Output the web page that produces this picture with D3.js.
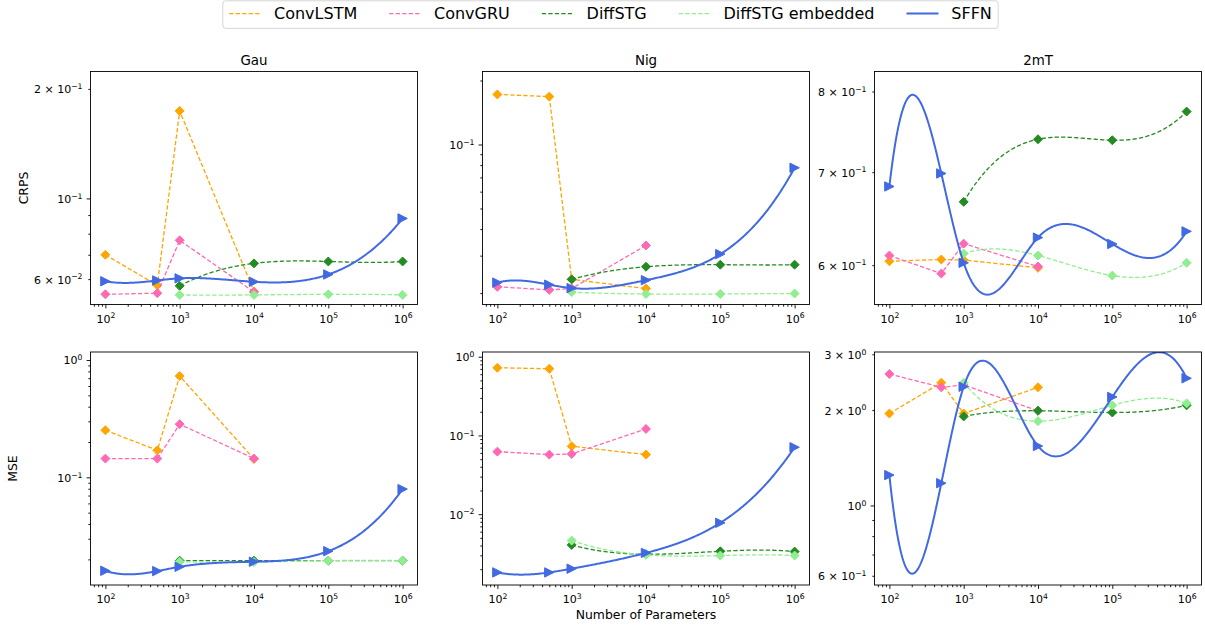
<!DOCTYPE html>
<html>
<head>
<meta charset="utf-8">
<script src="https://cdn.jsdelivr.net/npm/d3@7"></script>
<style>
  body { margin: 0; background: #fff; }
  svg text { font-family: "DejaVu Sans", sans-serif; fill: #000; }
</style>
</head>
<body>
<svg id="chart" width="1205" height="628"></svg>
<script>
const models = ["ConvLSTM", "ConvGRU", "DiffSTG", "DiffSTG embedded", "SFFN"];
const params = [1e2, 5e2, 1e3, 1e4, 1e5, 1e6];
const datasets = ["Gau", "Nig", "2mT"];
const metrics = ["CRPS", "MSE"];

// one row per panel: Gau CRPS, Nig CRPS, 2mT CRPS, Gau MSE, Nig MSE, 2mT MSE
const convLSTM = [
  [0.0700, 0.0577, 0.174, 0.0555, null, null],
  [0.172, 0.168, 0.0232, 0.0210, null, null],
  [0.604, 0.6057, 0.6052, 0.5974, null, null],
  [0.252, 0.170, 0.730, 0.1435, null, null],
  [0.724, 0.703, 0.0728, 0.0571, null, null],
  [1.95, 2.44, 1.95, 2.36, null, null]
];
const convGRU = [
  [0.0545, 0.0549, 0.0767, 0.0553, null, null],
  [0.0214, 0.0207, 0.0210, 0.0335, null, null],
  [0.6097, 0.5918, 0.6218, 0.5987, null, null],
  [0.1445, 0.1445, 0.284, 0.1445, null, null],
  [0.0623, 0.0571, 0.0582, 0.121, null, null],
  [2.60, 2.36, 2.40, 1.99, null, null]
];
const diffSTG = [
  [null, null, 0.0575, 0.0663, 0.0671, 0.0671],
  [null, null, 0.0232, 0.0266, 0.0272, 0.0272],
  [null, null, 0.6664, 0.7392, 0.7380, 0.7739],
  [null, null, 0.0195, 0.0195, 0.0195, 0.0195],
  [null, null, 0.00407, 0.0031, 0.00338, 0.00335],
  [null, null, 1.91, 1.99, 1.965, 2.07]
];
const diffSTGEmb = [
  [null, null, 0.0543, 0.0543, 0.0545, 0.0543],
  [null, null, 0.0202, 0.0198, 0.0198, 0.0199],
  [null, null, 0.6117, 0.6097, 0.5898, 0.6024],
  [null, null, 0.0191, 0.0190, 0.0195, 0.0195],
  [null, null, 0.00462, 0.00304, 0.00298, 0.00298],
  [null, null, 2.44, 1.845, 2.07, 2.10]
];
const sffn = [
  [0.0592, 0.0595, 0.0603, 0.0590, 0.0618, 0.0881],
  [0.0224, 0.0219, 0.0211, 0.0230, 0.0305, 0.0777],
  [0.6836, 0.6985, 0.6024, 0.6281, 0.6215, 0.6346],
  [0.0160, 0.0159, 0.0173, 0.0191, 0.0235, 0.0794],
  [0.00182, 0.00182, 0.00203, 0.00322, 0.00776, 0.0708],
  [1.247, 1.176, 2.37, 1.54, 2.20, 2.52]
];
// y range of each panel, same order
const yLimits = [
  [0.0511, 0.2233], [0.01767, 0.2205], [0.5622, 0.827],
  [0.0121, 1.17], [0.00126, 1.148], [0.561, 3.05]
];
const xLimits = [10 ** 1.8, 10 ** 6.2];

const seriesValues = [convLSTM, convGRU, diffSTG, diffSTGEmb, sffn];

// marker shapes like matplotlib "D" and ">"
const diamond = {
  draw(ctx, size) {
    const r = Math.sqrt(size / 2);
    ctx.moveTo(0, -r); ctx.lineTo(r, 0); ctx.lineTo(0, r); ctx.lineTo(-r, 0); ctx.closePath();
  }
};
const triangleRight = {
  draw(ctx, size) {
    const r = Math.sqrt(size / 2);
    ctx.moveTo(r, 0); ctx.lineTo(-r, -r); ctx.lineTo(-r, r); ctx.closePath();
  }
};

const styles = [
  { color: "orange", dash: "4.3,2.2", width: 1.3, smooth: false, symbol: diamond, size: 40 },
  { color: "hotpink", dash: "4.3,2.2", width: 1.3, smooth: false, symbol: diamond, size: 40 },
  { color: "forestgreen", dash: "4.3,2.2", width: 1.3, smooth: true, symbol: diamond, size: 40 },
  { color: "lightgreen", dash: "4.3,2.2", width: 1.3, smooth: true, symbol: diamond, size: 40 },
  { color: "royalblue", dash: null, width: 2, smooth: true, symbol: triangleRight, size: 44 }
];

// cubic spline with not-a-knot ends (like scipy make_interp_spline)
function solve(A, b) {
  const n = b.length;
  for (let i = 0; i < n; i++) {
    let p = i;
    for (let k = i + 1; k < n; k++) if (Math.abs(A[k][i]) > Math.abs(A[p][i])) p = k;
    [A[i], A[p]] = [A[p], A[i]];
    [b[i], b[p]] = [b[p], b[i]];
    for (let k = i + 1; k < n; k++) {
      const f = A[k][i] / A[i][i];
      for (let j = i; j < n; j++) A[k][j] -= f * A[i][j];
      b[k] -= f * b[i];
    }
  }
  const m = new Array(n).fill(0);
  for (let i = n - 1; i >= 0; i--) {
    let s = b[i];
    for (let j = i + 1; j < n; j++) s -= A[i][j] * m[j];
    m[i] = s / A[i][i];
  }
  return m;
}

function splineThrough(xs, ys) {
  const n = xs.length;
  const h = d3.range(n - 1).map(i => xs[i + 1] - xs[i]);
  const A = d3.range(n).map(() => new Array(n).fill(0));
  const b = new Array(n).fill(0);
  A[0][0] = h[1]; A[0][1] = -(h[0] + h[1]); A[0][2] = h[0];
  for (let i = 1; i < n - 1; i++) {
    A[i][i - 1] = h[i - 1];
    A[i][i] = 2 * (h[i - 1] + h[i]);
    A[i][i + 1] = h[i];
    b[i] = 6 * ((ys[i + 1] - ys[i]) / h[i] - (ys[i] - ys[i - 1]) / h[i - 1]);
  }
  A[n - 1][n - 3] = h[n - 2]; A[n - 1][n - 2] = -(h[n - 3] + h[n - 2]); A[n - 1][n - 1] = h[n - 3];
  const M = solve(A, b);
  return x => {
    const i = Math.max(0, Math.min(n - 2, d3.bisectRight(xs, x) - 1));
    const hi = h[i], a = xs[i + 1] - x, c = x - xs[i];
    return M[i] * a * a * a / (6 * hi) + M[i + 1] * c * c * c / (6 * hi)
      + (ys[i] / hi - M[i] * hi / 6) * a + (ys[i + 1] / hi - M[i + 1] * hi / 6) * c;
  };
}

function SplineCurve(context) { this._context = context; }
SplineCurve.prototype = {
  areaStart() {}, areaEnd() {},
  lineStart() { this._x = []; this._y = []; },
  point(x, y) { this._x.push(+x); this._y.push(+y); },
  lineEnd() {
    const xs = this._x, ys = this._y, n = xs.length, ctx = this._context;
    if (!n) return;
    if (n < 4) {
      xs.forEach((x, i) => i ? ctx.lineTo(x, ys[i]) : ctx.moveTo(x, ys[i]));
      return;
    }
    const f = splineThrough(xs, ys);
    const steps = 300;
    for (let k = 0; k <= steps; k++) {
      const x = xs[0] + (xs[n - 1] - xs[0]) * k / steps;
      k ? ctx.lineTo(x, f(x)) : ctx.moveTo(x, f(x));
    }
  }
};
const curveSpline = context => new SplineCurve(context);

// matplotlib-like log tick labels
function sublabelsFor(domain) {
  const numdec = Math.abs(Math.log10(domain[1]) - Math.log10(domain[0]));
  if (numdec > 1) return new Set([1]);
  if (numdec > 0.4) return new Set([1, 2, 3, 4, 6]);
  return new Set([1, 2, 3, 4, 5, 6, 7, 8, 9]);
}
function coef(v) {
  const e = Math.floor(Math.log10(v) + 1e-9);
  return { c: Math.round(v / 10 ** e), e };
}
function writeLabel(textSel, v, sub) {
  const { c, e } = coef(v);
  textSel.text(null);
  if (!sub.has(c)) return;
  textSel.append("tspan").text(c === 1 ? "10" : c + " \u00d7 10");
  textSel.append("tspan").attr("dy", -4.2).attr("font-size", 7.7)
    .text((e < 0 ? "\u2212" : "") + Math.abs(e));
}

const svg = d3.select("#chart");
const panelLeft = [90.5, 482.5, 874.5];
const panelTop = [71.5, 352];
const panelW = 327, panelH = 233;
const majorLen = 3.9, minorLen = 2.2, pad = 3.9;

function styleAxis(sel) {
  sel.attr("font-size", 11).attr("font-family", null);
  sel.select(".domain").remove();
  sel.selectAll(".tick line").attr("stroke", "#000").attr("stroke-width", 0.9);
}

metrics.forEach((metric, r) => datasets.forEach((ds, c) => {
  const p = r * 3 + c;
  const g = svg.append("g").attr("transform", `translate(${panelLeft[c]},${panelTop[r]})`);
  const x = d3.scaleLog().domain(xLimits).range([0, panelW]);
  const y = d3.scaleLog().domain(yLimits[p]).range([panelH, 0]);

  g.append("clipPath").attr("id", `clip${p}`)
    .append("rect").attr("width", panelW).attr("height", panelH);

  // x axis
  const xSub = sublabelsFor(xLimits);
  const xTicks = x.ticks();
  [true, false].forEach(major => {
    const ax = g.append("g").attr("transform", `translate(0,${panelH})`)
      .call(d3.axisBottom(x)
        .tickValues(xTicks.filter(t => (coef(t).c === 1) === major))
        .tickSize(major ? majorLen : minorLen).tickPadding(pad).tickFormat(""));
    styleAxis(ax);
    ax.selectAll(".tick text").attr("y", 18).attr("dy", null)
      .each(function (d) { writeLabel(d3.select(this), d, xSub); });
  });

  // y axis
  const ySub = sublabelsFor(yLimits[p]);
  const yTicks = y.ticks(4);
  [true, false].forEach(major => {
    const ax = g.append("g")
      .call(d3.axisLeft(y)
        .tickValues(yTicks.filter(t => (coef(t).c === 1) === major))
        .tickSize(major ? majorLen : minorLen).tickPadding(pad).tickFormat(""));
    styleAxis(ax);
    ax.selectAll(".tick text").attr("x", -(majorLen + pad + 0.2)).attr("dy", "0.36em")
      .each(function (d) { writeLabel(d3.select(this), d, ySub); });
  });

  // series
  const plot = g.append("g").attr("clip-path", `url(#clip${p})`);
  seriesValues.forEach((vals, s) => {
    const st = styles[s];
    const pts = params.map((q, i) => ({ q, v: vals[p][i] }));
    const line = d3.line()
      .defined(d => d.v != null)
      .x(d => x(d.q))
      .y(d => y(d.v))
      .curve(st.smooth ? curveSpline : d3.curveLinear);
    plot.append("path")
      .attr("d", line(pts))
      .attr("fill", "none")
      .attr("stroke", st.color)
      .attr("stroke-width", st.width)
      .attr("stroke-dasharray", st.dash);
    plot.selectAll(null)
      .data(pts.filter(d => d.v != null))
      .join("path")
      .attr("d", d3.symbol(st.symbol, st.size))
      .attr("transform", d => `translate(${x(d.q)},${y(d.v)})`)
      .attr("fill", st.color)
      .attr("stroke", st.color)
      .attr("stroke-width", 1);
  });

  g.append("rect")
    .attr("width", panelW).attr("height", panelH)
    .attr("fill", "none").attr("stroke", "#000").attr("stroke-width", 0.9);

  if (r === 0) {
    g.append("text").attr("x", panelW / 2).attr("y", -6.5)
      .attr("text-anchor", "middle").attr("font-size", 13.4).text(ds);
  }
}));

// row labels and x label
const rowLabelX = [23.5, 12.5];
metrics.forEach((m, r) => {
  svg.append("text")
    .attr("transform", `translate(${rowLabelX[r]},${panelTop[r] + panelH / 2}) rotate(-90)`)
    .attr("text-anchor", "middle").attr("dy", "0.36em")
    .attr("font-size", 12.4).text(m);
});
svg.append("text").attr("x", panelLeft[1] + panelW / 2).attr("y", 619)
  .attr("text-anchor", "middle").attr("font-size", 12.4).text("Number of Parameters");

// legend
const legend = svg.append("g");
const box = legend.append("rect");
let cx = 0;
models.forEach((m, i) => {
  const st = styles[i];
  const it = legend.append("g").attr("transform", `translate(${cx},0)`);
  it.append("line").attr("x1", 0).attr("x2", 32).attr("y1", 0).attr("y2", 0)
    .attr("stroke", st.color).attr("stroke-width", st.width)
    .attr("stroke-dasharray", st.dash);
  const t = it.append("text").attr("x", 44.8).attr("y", 5.6).attr("font-size", 16).text(m);
  cx += 44.8 + t.node().getComputedTextLength() + 32;
});
const legendW = cx - 32 + 12.8;
box.attr("x", -6.4).attr("y", -12.8).attr("width", legendW).attr("height", 27.6)
  .attr("rx", 3).attr("fill", "#fff").attr("stroke", "#d0d0d0").attr("stroke-width", 0.9);
legend.attr("transform", `translate(${610.5 - legendW / 2 + 6.4},13.6)`);
</script>
</body>
</html>
